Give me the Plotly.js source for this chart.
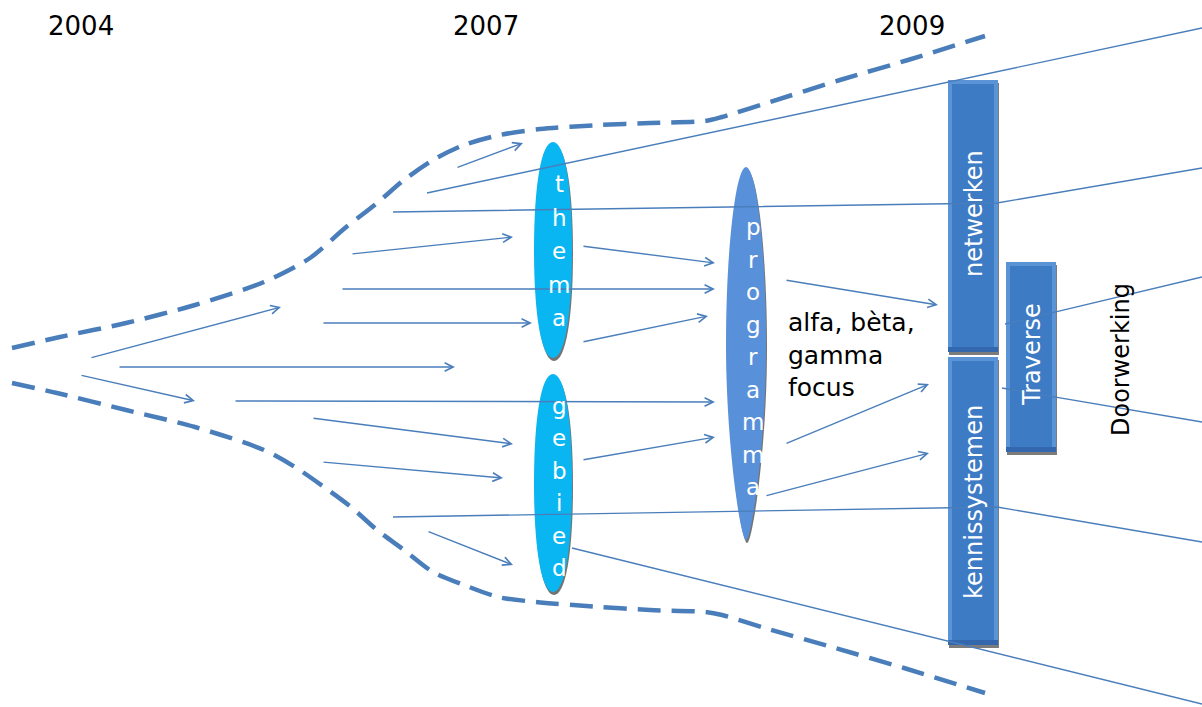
<!DOCTYPE html>
<html><head><meta charset="utf-8">
<script src="https://cdn.plot.ly/plotly-3.0.1.min.js"></script>
<style>html,body{margin:0;padding:0;background:#fff}#chart{width:1202px;height:707px}</style>
</head><body><div id="chart"></div>
<script>
// ---- data (diagram, in picture pixel units) ----
const years = ['2004', '2007', '2009'];
const yearX = [81, 486, 912];
const yearY = [26, 26, 26];

const topEdgeX = [12, 60, 126, 195, 264, 310, 345, 377, 404, 433, 464, 500, 540, 600, 650, 705, 722, 770, 840, 908, 985];
const topEdgeY = [348, 337, 323, 305, 282, 258, 228, 203, 180, 160, 145, 135, 129, 125, 123, 121, 117, 102, 80, 60, 36];
const bottomEdgeX = [12, 57, 126, 195, 264, 295, 324, 351, 377, 404, 433, 464, 498, 536, 600, 650, 705, 722, 765, 835, 904, 985];
const bottomEdgeY = [383, 393, 410, 427, 450, 467, 487, 507, 530, 550, 572, 585, 597, 602, 607, 610, 612, 615, 628, 648, 668, 693];

const arrowFromX = [90, 80, 118, 234, 322, 341, 351, 456, 312, 322, 427, 582, 582, 582, 785, 785, 765];
const arrowFromY = [358, 375, 367, 401, 323, 289, 254, 168, 418, 462, 531, 246, 342, 460, 280, 444, 496];
const arrowToX   = [281, 195, 455, 715, 532, 715, 513, 523, 513, 503, 513, 715, 708, 715, 938, 929, 929];
const arrowToY   = [307, 401, 367, 402, 323, 289, 237, 143, 444, 478, 565, 263, 316, 437, 305, 384, 453];

const streamX = [[427, 1202], [393, 997, 1202], [393, 997, 1202], [572, 1202], [1005, 1202], [1002, 1202]];
const streamY = [[193, 28], [212, 203, 168], [517, 507, 542], [548, 704], [324, 277], [388, 422]];

const lensWords = ['thema', 'gebied', 'programma'];
const lensCx = [553, 553, 746];
const lensTop = [142, 374, 167];
const lensBottom = [358, 592, 540];
const lensMid = [250, 483, 345];
const lensHalfW = [19, 19, 20];
const lensTopA = [0.62, 0.62, 0.5];
const lensTopB = [0.6, 0.6, 0.55];
const lensBotA = [0.62, 0.62, 0.28];
const lensBotB = [0.6, 0.6, 0.5];
const lensColor = ['#0AB6F1', '#0AB6F1', '#5891DA'];
const letterX = [559, 559, 753];
const letterStart = [184, 406, 227];
const letterStep = [33.6, 32.4, 32.5];

const barWords = ['netwerken', 'kennissystemen', 'Traverse'];
const barX0 = [948, 948, 1006];
const barX1 = [998, 998, 1056];
const barY0 = [80, 357, 262];
const barY1 = [352, 645, 452];

const focusText = ['alfa, bèta,', 'gamma', 'focus'];
const sideText = 'Doorwerking';

// ---- styling ----
const BLUE = '#4A7EBB';
const FONT = 'DejaVu Sans';

function lensPath(cx, top, mid, bot, hw, ta, tb, ba, bb) {
  const h1 = mid - top, h2 = bot - mid;
  const r = (s) => `C ${cx + s * ta * hw},${top} ${cx + s * hw},${mid - tb * h1} ${cx + s * hw},${mid} ` +
                   `C ${cx + s * hw},${mid + bb * h2} ${cx + s * ba * hw},${bot} ${cx},${bot} `;
  const l = `C ${cx - ba * hw},${bot} ${cx - hw},${mid + bb * h2} ${cx - hw},${mid} ` +
            `C ${cx - hw},${mid - tb * h1} ${cx - ta * hw},${top} ${cx},${top} Z`;
  return `M ${cx},${top} ` + r(1) + l;
}

const shapes = [];
lensWords.forEach((w, i) => {
  const args = [lensTopA[i], lensTopB[i], lensBotA[i], lensBotB[i]];
  shapes.push({type: 'path', xref: 'x', yref: 'y', layer: 'below',
    path: lensPath(lensCx[i] + 1, lensTop[i] + 3, lensMid[i] + 3, lensBottom[i] + 3, lensHalfW[i], ...args),
    fillcolor: 'rgba(70,70,70,0.75)', line: {width: 0}});
  shapes.push({type: 'path', xref: 'x', yref: 'y', layer: 'below',
    path: lensPath(lensCx[i], lensTop[i], lensMid[i], lensBottom[i], lensHalfW[i], ...args),
    fillcolor: lensColor[i], line: {width: 0}});
});
barWords.forEach((w, i) => {
  shapes.push({type: 'rect', xref: 'x', yref: 'y', layer: 'below',
    x0: barX0[i] + 1, x1: barX1[i] + 1, y0: barY0[i] + 3, y1: barY1[i] + 3,
    fillcolor: 'rgba(80,80,80,0.75)', line: {width: 0}});
  shapes.push({type: 'rect', xref: 'x', yref: 'y', layer: 'below',
    x0: barX0[i], x1: barX1[i], y0: barY0[i], y1: barY1[i],
    fillcolor: '#5B94D6', line: {width: 0}});
  shapes.push({type: 'rect', xref: 'x', yref: 'y', layer: 'below',
    x0: barX0[i], x1: barX1[i], y0: barY1[i] - 5, y1: barY1[i],
    fillcolor: '#3468AE', line: {width: 0}});
  shapes.push({type: 'rect', xref: 'x', yref: 'y', layer: 'below',
    x0: barX0[i] + 4, x1: barX1[i] - 4, y0: barY0[i] + 4, y1: barY1[i] - 5,
    fillcolor: '#3D7BC5', line: {width: 0}});
});

const traces = [];
traces.push({x: topEdgeX, y: topEdgeY, mode: 'lines', hoverinfo: 'skip',
  line: {color: BLUE, width: 4.5, dash: '23px,11px', shape: 'spline', smoothing: 0.8}});
traces.push({x: bottomEdgeX, y: bottomEdgeY, mode: 'lines', hoverinfo: 'skip',
  line: {color: BLUE, width: 4.5, dash: '23px,11px', shape: 'spline', smoothing: 0.8}});
streamX.forEach((xs, i) => {
  traces.push({x: xs, y: streamY[i], mode: 'lines', hoverinfo: 'skip',
    line: {color: BLUE, width: 1.4}});
});

const annotations = [];
years.forEach((t, i) => annotations.push({x: yearX[i], y: yearY[i], xref: 'x', yref: 'y',
  text: t, showarrow: false, font: {family: FONT, size: 26, color: '#000'}}));
arrowFromX.forEach((x0, i) => annotations.push({
  x: arrowToX[i], y: arrowToY[i], ax: x0, ay: arrowFromY[i], xref: 'x', yref: 'y', axref: 'x', ayref: 'y',
  text: '', showarrow: true, arrowhead: 5, arrowsize: 1.2, arrowwidth: 1.4, arrowcolor: BLUE, standoff: 0}));
lensWords.forEach((w, i) => {
  w.split('').forEach((ch, j) => annotations.push({
    x: letterX[i], y: letterStart[i] + j * letterStep[i], xref: 'x', yref: 'y',
    text: ch, showarrow: false, font: {family: FONT, size: 23, color: '#fff'}}));
});
barWords.forEach((w, i) => annotations.push({
  x: (barX0[i] + barX1[i]) / 2 + 1, y: (barY0[i] + barY1[i]) / 2 - 2 + (i === 1 ? 3 : 0), xref: 'x', yref: 'y',
  text: w, textangle: -90, showarrow: false, font: {family: FONT, size: 24, color: '#fff'}}));
annotations.push({x: 786, y: 355, xref: 'x', yref: 'y', xanchor: 'left', align: 'left',
  text: focusText.join('<br>'), showarrow: false, font: {family: FONT, size: 25, color: '#000'}});
annotations.push({x: 1121, y: 360, xref: 'x', yref: 'y', text: sideText, textangle: -90,
  showarrow: false, font: {family: FONT, size: 24, color: '#000'}});

const layout = {
  width: 1202, height: 707, margin: {l: 0, r: 0, t: 0, b: 0},
  paper_bgcolor: '#fff', plot_bgcolor: '#fff', showlegend: false,
  xaxis: {range: [0, 1202], visible: false, fixedrange: true},
  yaxis: {range: [707, 0], visible: false, fixedrange: true},
  shapes: shapes, annotations: annotations
};
Plotly.newPlot('chart', traces, layout, {staticPlot: true, displayModeBar: false});
</script>
</body></html>
